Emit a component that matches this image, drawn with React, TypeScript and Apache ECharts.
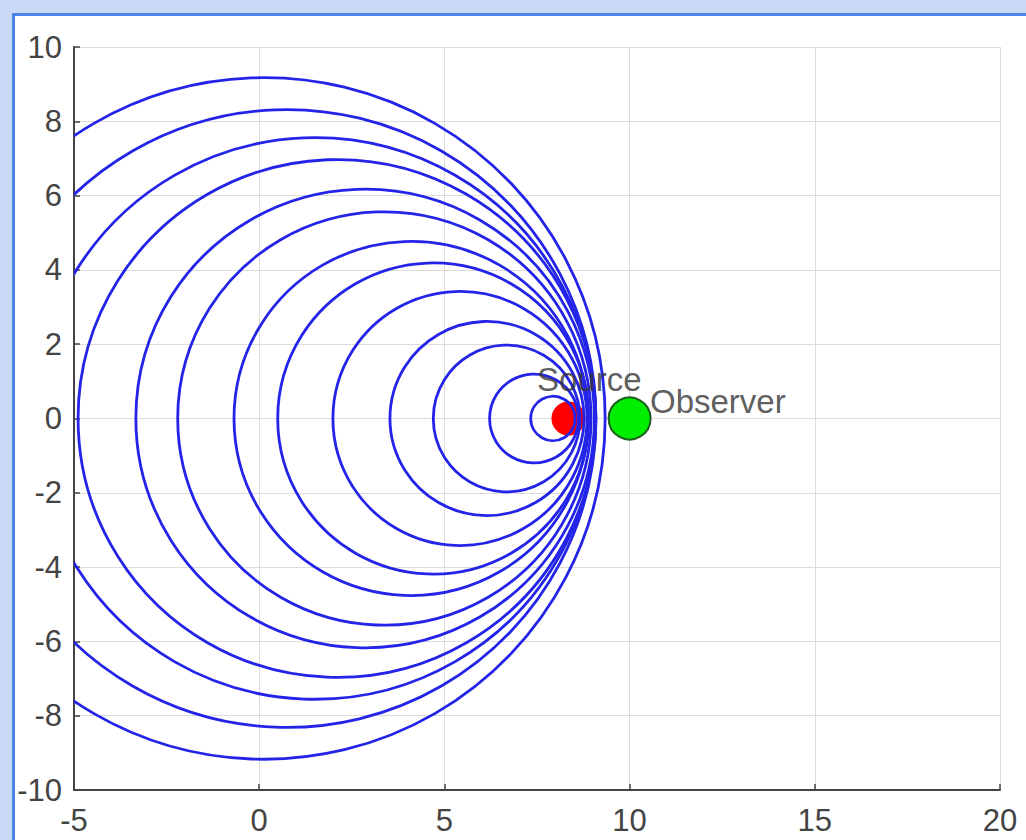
import React, { useEffect, useRef } from "react";
import * as echarts from "echarts";

// Wavefront circles (emission centers on the x axis and current radii)
const circleCenters = [0.14, 0.75, 1.5, 2.1, 2.86, 3.38, 4.1, 4.7, 5.42, 6.15, 6.68, 7.42, 7.93];
const circleRadii = [9.2, 8.34, 7.58, 6.99, 6.19, 5.58, 4.78, 4.2, 3.43, 2.62, 1.98, 1.2, 0.6];

const sourcePoint = [8.35, 0];
const observerPoint = [10, 0];
const sourceLabelPos = [7.5, 1.05];
const observerLabelPos = [10.55, 0.46];

const xTicks = { min: -5, max: 20, interval: 5 };
const yTicks = { min: -10, max: 10, interval: 2 };

export default function App() {
  const ref = useRef<HTMLDivElement>(null);
  useEffect(() => {
    if (!ref.current) return;
    const chart = echarts.init(ref.current, null, { renderer: "svg" });
    const axisCommon = {
      axisLine: { show: true, onZero: false, lineStyle: { color: "#444", width: 2 } },
      axisTick: { show: true, inside: true, length: 6, lineStyle: { color: "#444", width: 1.5 } },
      splitLine: { show: true, lineStyle: { color: "#dcdcdc", width: 1 } },
      axisLabel: {
        color: "#444",
        fontSize: 31,
        fontFamily: "Liberation Sans, Arial, sans-serif",
      },
    };
    chart.setOption({
      animation: false,
      backgroundColor: "transparent",
      grid: { left: 74, right: 26, top: 47, bottom: 50, containLabel: false },
      xAxis: {
        type: "value",
        ...xTicks,
        ...axisCommon,
        axisLabel: { ...axisCommon.axisLabel, margin: 15, showMaxLabel: true, showMinLabel: true },
      },
      yAxis: {
        type: "value",
        ...yTicks,
        ...axisCommon,
        axisLabel: { ...axisCommon.axisLabel, margin: 12 },
      },
      series: [
        {
          type: "scatter",
          data: [sourcePoint],
          symbol: "circle",
          symbolSize: 34,
          itemStyle: { color: "#ff0000", opacity: 1 },
          z: 1,
        },
        {
          type: "custom",
          clip: true,
          z: 2,
          data: circleCenters.map((c, i) => [c, circleRadii[i]]),
          encode: { x: 0 },
          renderItem: (params: any, api: any) => {
            const center = api.coord([api.value(0), 0]);
            const r = api.size([api.value(1), 0])[0];
            return {
              type: "circle",
              shape: { cx: center[0], cy: center[1], r },
              style: { fill: "none", stroke: "#2424e8", lineWidth: 2.8 },
            };
          },
        },
        {
          type: "scatter",
          data: [observerPoint],
          symbol: "circle",
          symbolSize: 42,
          itemStyle: { color: "#00ee00", borderColor: "#1d5e1d", borderWidth: 2, opacity: 1 },
          z: 3,
        },
        {
          type: "scatter",
          data: [
            { value: sourceLabelPos, name: "Source" },
            { value: observerLabelPos, name: "Observer" },
          ],
          symbolSize: 0,
          z: 4,
          label: {
            show: true,
            position: "right",
            distance: 0,
            formatter: (p: any) => p.name,
            color: "#333",
            fontSize: 33,
            fontFamily: "Liberation Sans, Arial, sans-serif",
            align: "left",
            verticalAlign: "middle",
          },
        },
      ],
    });
    return () => chart.dispose();
  }, []);

  return (
    <div
      style={{
        position: "fixed",
        left: 0,
        top: 0,
        width: 1026,
        height: 840,
        background: "#c8daf7",
        overflow: "hidden",
      }}
    >
      <div
        style={{
          position: "absolute",
          left: 12,
          top: 13,
          width: 1100,
          height: 900,
          background: "#ffffff",
          borderLeft: "3px solid #4a86e8",
          borderTop: "3px solid #4a86e8",
        }}
      />
      <div ref={ref} style={{ position: "absolute", left: 0, top: 0, width: 1026, height: 840 }} />
    </div>
  );
}
